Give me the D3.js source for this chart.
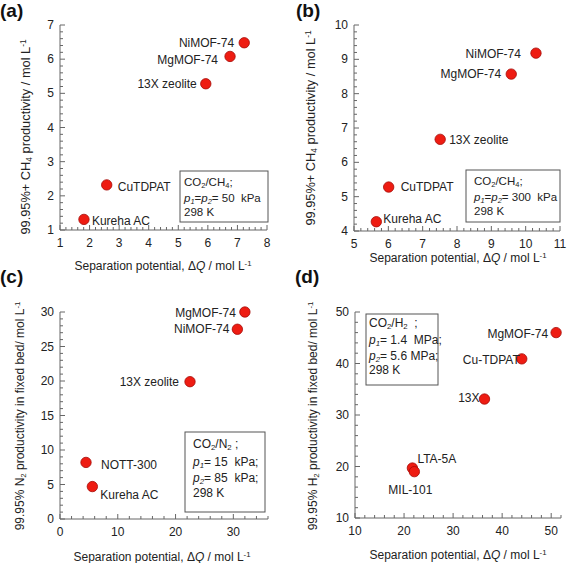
<!DOCTYPE html>
<html><head><meta charset="utf-8">
<script src="https://cdn.jsdelivr.net/npm/d3@7"></script>
<style>body{margin:0;background:#fff}svg{display:block;font-family:"Liberation Sans",Arial,sans-serif}text{white-space:pre}</style>
</head><body><svg id="c" width="567" height="563"></svg>
<script>
// ---- data ----
const namesA = ["Kureha AC","CuTDPAT","13X zeolite","MgMOF-74","NiMOF-74"];
const xA = [1.81, 2.58, 5.93, 6.75, 7.23];
const yA = [1.31, 2.32, 5.28, 6.08, 6.48];
const xTicksA = [1,2,3,4,5,6,7,8];
const yTicksA = [1,2,3,4,5,6,7];

const namesB = ["Kureha AC","CuTDPAT","13X zeolite","MgMOF-74","NiMOF-74"];
const xB = [5.65, 6.01, 7.51, 9.58, 10.3];
const yB = [4.27, 5.28, 6.67, 8.57, 9.18];
const xTicksB = [5,6,7,8,9,10,11];
const yTicksB = [4,5,6,7,8,9,10];

const namesC = ["MgMOF-74","NiMOF-74","13X zeolite","NOTT-300","Kureha AC"];
const xC = [32.0, 30.7, 22.5, 4.5, 5.6];
const yC = [30.0, 27.5, 19.9, 8.2, 4.7];
const xTicksC = [0,10,20,30];
const yTicksC = [0,5,10,15,20,25,30];

const namesD = ["MgMOF-74","Cu-TDPAT","13X","LTA-5A","MIL-101"];
const xD = [51.0, 44.0, 36.4, 21.7, 22.1];
const yD = [46.0, 40.9, 33.1, 19.7, 19.0];
const xTicksD = [10,20,30,40,50];
const yTicksD = [10,20,30,40,50];

// ---- layout (not data) ----
const svg = d3.select("#c");
const axisCol = "#666";

function addRich(sel, parts){
  parts.forEach(p=>{
    const t = sel.append("tspan").text(p[0]);
    const s = p[1]||"";
    if(s.includes("i")) t.attr("font-style","italic");
    if(s.includes("sub")){ t.attr("baseline-shift","-25%").attr("font-size","0.65em"); }
    if(s.includes("sup")){ t.attr("baseline-shift","45%").attr("font-size","0.65em"); }
  });
}

function panel(cfg){
  const g = svg.append("g");
  const x = d3.scaleLinear().domain(cfg.xd).range(cfg.xr);
  const y = d3.scaleLinear().domain(cfg.yd).range(cfg.yr);
  const xm = d3.range(cfg.xd[0], cfg.xd[1]+1e-9, cfg.xminor);
  const ym = d3.range(cfg.yd[0], cfg.yd[1]+1e-9, cfg.yminor);
  const isMaj = (v, arr)=>arr.some(a=>Math.abs(a-v)<1e-6);
  g.append("g").selectAll("line").data(xm).join("line")
    .attr("x1",d=>x(d)).attr("x2",d=>x(d))
    .attr("y1",cfg.yr[0]).attr("y2",d=>cfg.yr[0]-(isMaj(d,cfg.xt)?5:3))
    .attr("stroke",axisCol).attr("stroke-width",1);
  g.append("g").selectAll("line").data(ym).join("line")
    .attr("y1",d=>y(d)).attr("y2",d=>y(d))
    .attr("x1",cfg.xr[0]).attr("x2",d=>cfg.xr[0]+(isMaj(d,cfg.yt)?5:3))
    .attr("stroke",axisCol).attr("stroke-width",1);
  g.append("line").attr("x1",cfg.xr[0]).attr("x2",cfg.xr[1]).attr("y1",cfg.yr[0]).attr("y2",cfg.yr[0]).attr("stroke",axisCol);
  g.append("line").attr("x1",cfg.xr[0]).attr("x2",cfg.xr[0]).attr("y1",cfg.yr[0]).attr("y2",cfg.yr[1]).attr("stroke",axisCol);
  g.append("g").selectAll("text").data(cfg.xt).join("text")
    .attr("x",d=>x(d)).attr("y",cfg.yr[0]+17).attr("text-anchor","middle")
    .attr("font-size",12).attr("fill","#222").text(d=>d);
  g.append("g").selectAll("text").data(cfg.yt).join("text")
    .attr("x",cfg.xr[0]-6).attr("y",d=>y(d)+4).attr("text-anchor","end")
    .attr("font-size",12).attr("fill","#222").text(d=>d);
  const xt = g.append("text").attr("x",cfg.xtitle[0]).attr("y",cfg.xtitle[1])
    .attr("text-anchor","middle").attr("font-size",12).attr("fill","#222");
  addRich(xt, [["Separation potential, "],["Δ"],["Q","i"],[cfg.xsep+"/ mol L"],["-1","sup"]]);
  const yt = g.append("text").attr("transform",`translate(${cfg.ytitle[0]},${cfg.ytitle[1]}) rotate(-90)`)
    .attr("text-anchor","middle").attr("font-size",cfg.ytfs).attr("fill","#222");
  addRich(yt, cfg.yparts);
  g.append("rect").attr("x",cfg.box[0]).attr("y",cfg.box[1]).attr("width",cfg.box[2]).attr("height",cfg.box[3])
    .attr("fill","#fff").attr("stroke","#555").attr("stroke-width",1);
  cfg.boxLines.forEach((ln,i)=>{
    const t = g.append("text").attr("x",cfg.box[0]+cfg.boxPad).attr("y",cfg.boxY[i])
      .attr("font-size",cfg.bfs).attr("fill","#222");
    addRich(t, ln);
  });
  const pts = cfg.names.map((n,i)=>({n, x:cfg.xs[i], y:cfg.ys[i], lp:cfg.lab[i]}));
  g.append("g").selectAll("circle").data(pts).join("circle")
    .attr("cx",d=>x(d.x)).attr("cy",d=>y(d.y)).attr("r",5.2)
    .attr("fill","#ee1c12").attr("stroke","#a40a06").attr("stroke-width",0.8);
  g.append("g").selectAll("text").data(pts).join("text")
    .attr("x",d=>x(d.x)+d.lp[0]).attr("y",d=>y(d.y)+d.lp[1]+4)
    .attr("text-anchor",d=>d.lp[2]).attr("font-size",12).attr("fill","#222").text(d=>d.n);
  svg.append("text").attr("x",cfg.plabel[0]).attr("y",cfg.plabel[1]).attr("font-size",19)
    .attr("font-weight","bold").attr("fill","#111").text(cfg.pname);
}

panel({pname:"(a)", plabel:[0,17], names:namesA, xs:xA, ys:yA, xt:xTicksA, yt:yTicksA,
  xd:[1,8], yd:[1,7], xr:[60,267], yr:[230,25], xminor:0.2, yminor:0.2,
  xtitle:[163,270], xsep:" ", ytitle:[30,137], ytfs:12.8,
  yparts:[["99.95%+ CH"],["4","sub"],[" productivity / mol L"],["-1","sup"]],
  box:[180,171,88,51], boxPad:4, boxY:[186,202,216], bfs:11.5,
  boxLines:[[["CO"],["2","sub"],["/CH"],["4","sub"],[";"]],[["p","i"],["1","isub"],["="],["p","i"],["2","isub"],["= 50  kPa"]],[["298 K"]]],
  lab:[[8,2,"start"],[11,2,"start"],[-9,0,"end"],[-12,4,"end"],[-10,0,"end"]]});

panel({pname:"(b)", plabel:[296,17], names:namesB, xs:xB, ys:yB, xt:xTicksB, yt:yTicksB,
  xd:[5,11], yd:[4,10], xr:[354,560], yr:[231,25], xminor:0.2, yminor:0.2,
  xtitle:[458,262], xsep:" ", ytitle:[315,128], ytfs:12.8,
  yparts:[["99.95%+ CH"],["4","sub"],[" productivity / mol L"],["-1","sup"]],
  box:[466,170,94,52], boxPad:8, boxY:[185,201,215], bfs:11.5,
  boxLines:[[["CO"],["2","sub"],["/CH"],["4","sub"],[";"]],[["p","i"],["1","isub"],["="],["p","i"],["2","isub"],["= 300  kPa"]],[["298 K"]]],
  lab:[[7,-3,"start"],[12,0,"start"],[9,1,"start"],[-10,0,"end"],[-15,1,"end"]]});

panel({pname:"(c)", plabel:[0,283], names:namesC, xs:xC, ys:yC, xt:xTicksC, yt:yTicksC,
  xd:[0,36], yd:[0,30], xr:[60,268], yr:[519,312], xminor:2, yminor:1,
  xtitle:[162,561], xsep:" ", ytitle:[24,416], ytfs:12,
  yparts:[["99.95% N"],["2","sub"],[" productivity in fixed bed/ mol L"],["-1","sup"]],
  box:[185,432,80,80], boxPad:8, boxY:[448,466,482,497], bfs:12,
  boxLines:[[["CO"],["2","sub"],["/N"],["2","sub"],[" ;"]],[["p","i"],["1","isub"],["= 15  kPa;"]],[["p","i"],["2","isub"],["= 85  kPa;"]],[["298 K"]]],
  lab:[[-9,1,"end"],[-8,0,"end"],[-11,0,"end"],[15,3,"start"],[8,8,"start"]]});

panel({pname:"(d)", plabel:[295,283], names:namesD, xs:xD, ys:yD, xt:xTicksD, yt:yTicksD,
  xd:[10,52], yd:[10,50], xr:[355,561], yr:[518,312], xminor:2, yminor:2,
  xtitle:[458,559], xsep:" ", ytitle:[317,416], ytfs:12,
  yparts:[["99.95% H"],["2","sub"],[" productivity in fixed bed/ mol L"],["-1","sup"]],
  box:[366,314,72,71], boxPad:3, boxY:[327,344,360,374], bfs:12,
  boxLines:[[["CO"],["2","sub"],["/H"],["2","sub"],["  ;"]],[["p","i"],["1","isub"],["= 1.4  MPa;"]],[["p","i"],["2","isub"],["= 5.6 MPa;"]],[["298 K"]]],
  lab:[[-8,1,"end"],[-2,1,"end"],[-5,-1,"end"],[5,-9,"start"],[-26,18,"start"]]});
</script></body></html>
